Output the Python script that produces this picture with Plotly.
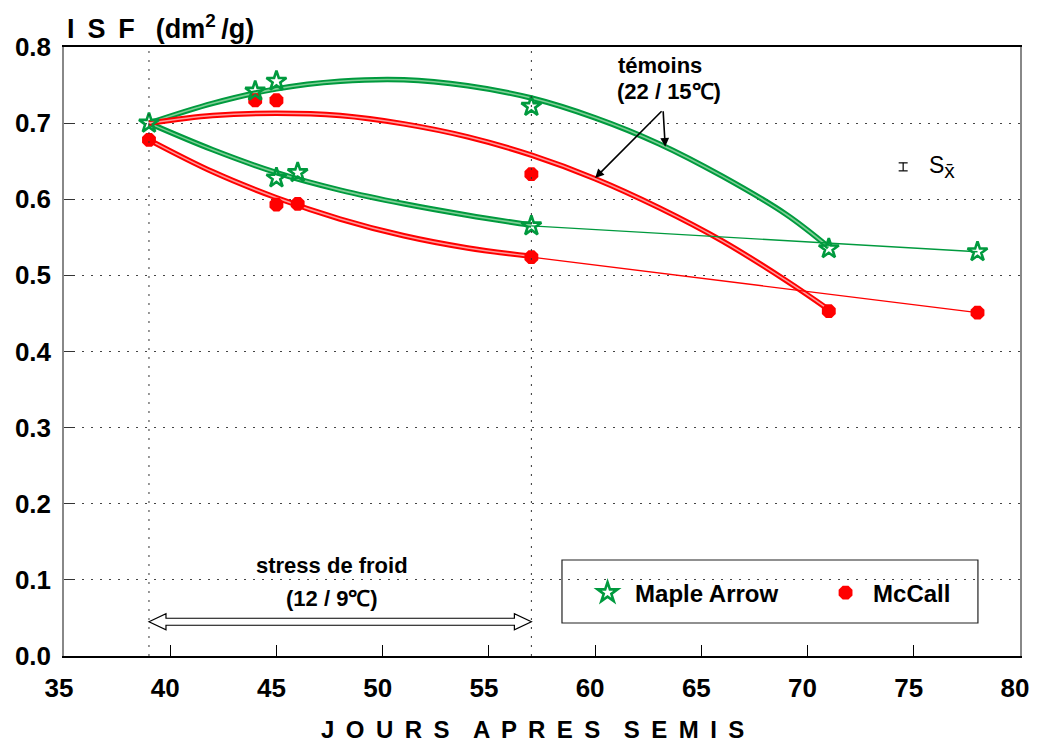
import plotly.graph_objects as go

# Measured leaf-area ratio (ISF, dm2/g) by days after sowing
maple_days = [39, 44, 45, 45, 46, 57, 57, 71, 78]
maple_isf = [0.700, 0.742, 0.755, 0.628, 0.635, 0.722, 0.565, 0.535, 0.531]
mccall_days = [39, 44, 45, 45, 46, 57, 57, 71, 78]
mccall_isf = [0.678, 0.730, 0.730, 0.593, 0.594, 0.633, 0.524, 0.453, 0.451]

# Fitted trend curves: controls (22/15 C) and cold stress (12/9 C)
ctrl_fit_days = [39, 42, 45, 48, 51, 54, 57, 60, 63, 66, 69, 71]
maple_ctrl_fit = [0.700, 0.726, 0.745, 0.755, 0.757, 0.749, 0.733, 0.707, 0.673, 0.630, 0.580, 0.537]
mccall_ctrl_fit = [0.700, 0.710, 0.713, 0.710, 0.699, 0.682, 0.658, 0.627, 0.589, 0.545, 0.493, 0.455]
cold_fit_days = [39, 42, 45, 48, 51, 54, 57]
maple_cold_fit = [0.700, 0.665, 0.635, 0.612, 0.594, 0.579, 0.566]
mccall_cold_fit = [0.678, 0.636, 0.602, 0.574, 0.552, 0.536, 0.525]

# Recovery segments after the cold period
recovery_days = [57, 78]
maple_recovery = [0.565, 0.531]
mccall_recovery = [0.524, 0.451]

x_ticks = [35, 40, 45, 50, 55, 60, 65, 70, 75, 80]
y_ticks = [0.0, 0.1, 0.2, 0.3, 0.4, 0.5, 0.6, 0.7, 0.8]
y_tick_text = ["0.0", "0.1", "0.2", "0.3", "0.4", "0.5", "0.6", "0.7", "0.8"]

stress_start, stress_end = 39, 57
stress_arrow_y = 0.045
se_x, se_low, se_high = 74.5, 0.6373, 0.6478

GREEN = "#009a3e"
GREEN_LIGHT = "#7fcf96"
RED = "#ff0000"
RED_LIGHT = "#ff9c9c"
FONT = "Liberation Sans, Arial, sans-serif"

# plot geometry (pixels) used to size the hand-drawn glyphs
ML, MR, MT, MB = 64, 17, 47, 89
W, H = 1037, 745
px_per_day = (W - ML - MR) / 45.0
px_per_unit = (H - MT - MB) / 0.8

fig = go.Figure()


def fit_curve(xs, ys, dark, light):
    fig.add_trace(go.Scatter(x=xs, y=ys, mode="lines", line=dict(color=dark, width=5.5, shape="spline"),
                             showlegend=False, hoverinfo="skip"))
    fig.add_trace(go.Scatter(x=xs, y=ys, mode="lines", line=dict(color=light, width=1.6, shape="spline"),
                             showlegend=False, hoverinfo="skip"))


fit_curve(ctrl_fit_days, maple_ctrl_fit, GREEN, GREEN_LIGHT)
fit_curve(cold_fit_days, maple_cold_fit, GREEN, GREEN_LIGHT)
fit_curve(ctrl_fit_days, mccall_ctrl_fit, RED, RED_LIGHT)
fit_curve(cold_fit_days, mccall_cold_fit, RED, RED_LIGHT)

fig.add_trace(go.Scatter(x=recovery_days, y=maple_recovery, mode="lines",
                         line=dict(color=GREEN, width=1.4), showlegend=False, hoverinfo="skip"))
fig.add_trace(go.Scatter(x=recovery_days, y=mccall_recovery, mode="lines",
                         line=dict(color=RED, width=1.4), showlegend=False, hoverinfo="skip"))

fig.add_trace(go.Scatter(x=mccall_days, y=mccall_isf, mode="markers", name="McCall",
                         marker=dict(symbol="octagon", size=15, color=RED, line=dict(width=0))))
fig.add_trace(go.Scatter(x=maple_days, y=maple_isf, mode="markers", name="Maple Arrow",
                         marker=dict(symbol="star-open", size=15, color=GREEN, line=dict(width=2.6, color=GREEN))))

shapes = []
# stress period limits
for d in (stress_start, stress_end):
    shapes.append(dict(type="line", xref="x", yref="y", x0=d, x1=d, y0=0, y1=0.8,
                       line=dict(color="#333", width=1, dash="2px,7px")))

# hollow double-headed arrow spanning the stress period
hl = 17 / px_per_day
hh = 8 / px_per_unit
sh = 3.5 / px_per_unit
y0 = stress_arrow_y
a, b = stress_start, stress_end
path = (f"M {a},{y0} L {a+hl},{y0+hh} L {a+hl},{y0+sh} L {b-hl},{y0+sh} L {b-hl},{y0+hh} "
        f"L {b},{y0} L {b-hl},{y0-hh} L {b-hl},{y0-sh} L {a+hl},{y0-sh} L {a+hl},{y0-hh} Z")
shapes.append(dict(type="path", xref="x", yref="y", path=path, fillcolor="white",
                   line=dict(color="black", width=1.2)))

# standard error bar glyph
bar_half = 4.5 / px_per_day
shapes.append(dict(type="line", xref="x", yref="y", x0=se_x, x1=se_x, y0=se_low, y1=se_high,
                   line=dict(color="black", width=1.2)))
for yy in (se_low, se_high):
    shapes.append(dict(type="line", xref="x", yref="y", x0=se_x - bar_half, x1=se_x + bar_half, y0=yy, y1=yy,
                       line=dict(color="black", width=1.2)))

# legend box
shapes.append(dict(type="rect", xref="paper", yref="paper", x0=0.5209, x1=0.956, y0=0.0542, y1=0.1576,
                   line=dict(color="#222", width=1.2), fillcolor="white", layer="below"))

LETTER_GAP = " \u2009"              # spacing between letters of the axis caption
WORD_GAP = "\u00a0\u2002\u2009"      # wider spacing between its words
x_caption = WORD_GAP.join(LETTER_GAP.join(word) for word in ["JOURS", "APRES", "SEMIS"])

bold = dict(family=FONT, size=22, color="black", weight="bold")
annotations = [
    dict(xref="paper", yref="paper", x=0.001, y=1.033, xanchor="left", yanchor="middle", showarrow=False,
         text="I\u2009 S\u2009 F\u00a0\u2002(dm<sup>2</sup>\u2009/g)",
         font=dict(family=FONT, size=27, color="black", weight="bold")),
    dict(xref="paper", yref="paper", x=0.49, y=-0.1215, xanchor="center", yanchor="middle", showarrow=False,
         text=x_caption, font=dict(family=FONT, size=24, color="black", weight="bold")),
    dict(xref="x", yref="y", x=63.05, y=0.7755, xanchor="center", yanchor="middle", showarrow=False,
         text="témoins", font=bold),
    dict(xref="x", yref="y", x=63.5, y=0.741, xanchor="center", yanchor="middle", showarrow=False,
         text="(22 / 15℃)", font=bold),
    dict(xref="x", yref="y", x=47.6, y=0.119, xanchor="center", yanchor="middle", showarrow=False,
         text="stress de froid", font=bold),
    dict(xref="x", yref="y", x=47.6, y=0.076, xanchor="center", yanchor="middle", showarrow=False,
         text="(12 / 9℃)", font=bold),
    dict(xref="x", yref="y", x=75.6, y=0.642, xanchor="left", yanchor="middle", showarrow=False,
         text="S<sub><span style='font-size:21px'>x̄</span></sub>", font=dict(family=FONT, size=23, color="black")),
    # arrows pointing at the control curves
    dict(xref="x", yref="y", axref="x", ayref="y", x=60.0, y=0.628, ax=63.2, ay=0.7175, text="",
         showarrow=True, arrowhead=2, arrowsize=1.1, arrowwidth=1.6, arrowcolor="black"),
    dict(xref="x", yref="y", axref="x", ayref="y", x=63.3, y=0.669, ax=63.2, ay=0.7175, text="",
         showarrow=True, arrowhead=2, arrowsize=1.1, arrowwidth=1.6, arrowcolor="black"),
]

tick_font = dict(family=FONT, size=26, color="black", weight="bold")
fig.update_layout(
    width=W, height=H,
    margin=dict(l=ML, r=MR, t=MT, b=MB, autoexpand=False),
    paper_bgcolor="white", plot_bgcolor="white",
    shapes=shapes, annotations=annotations,
    legend=dict(orientation="h", x=0.5398, y=0.1034, xanchor="left", yanchor="middle",
                bgcolor="rgba(0,0,0,0)", borderwidth=0, entrywidth=178, itemwidth=45, traceorder="reversed",
                font=dict(family=FONT, size=24, color="black", weight="bold")),
    xaxis=dict(range=[35, 80], tickvals=x_ticks, ticks="inside", ticklen=11, tickwidth=1.2,
               tickcolor="black", showgrid=False, zeroline=False, showline=True, linecolor="black",
               linewidth=1.5, mirror=True, tickfont=tick_font, ticklabelstandoff=8, ticklabelshift=-5),
    yaxis=dict(range=[0, 0.8], tickvals=y_ticks, ticktext=y_tick_text, ticks="inside", ticklen=11,
               tickwidth=1.2, tickcolor="#333", showgrid=True, gridcolor="#444", gridwidth=1,
               griddash="2px,7px", zeroline=False, showline=True, linecolor="#888", linewidth=1.5,
               mirror=True, tickfont=tick_font, ticklabelstandoff=6),
)

fig.write_html("out.html")
